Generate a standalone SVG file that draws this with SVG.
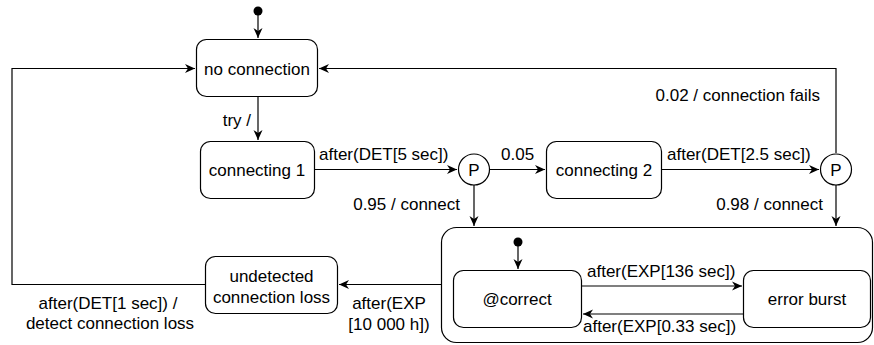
<svg xmlns="http://www.w3.org/2000/svg" width="874" height="345" viewBox="0 0 874 345">
<style>
.n{fill:#fff;stroke:#000;stroke-width:1.2}
.t{font-family:"Liberation Sans",Arial,sans-serif;font-size:17px;fill:#000}
.c{text-anchor:middle}
.e{text-anchor:end}
.l{fill:none;stroke:#000;stroke-width:1.2}
</style>
<defs>
<marker id="a" markerWidth="12" markerHeight="10" refX="10" refY="5" orient="auto" markerUnits="userSpaceOnUse">
<path d="M0,0.5 L10,5 L0,9.5 L3,5 Z" fill="#000"/>
</marker>
</defs>
<g id="composite"><rect class="n" x="441.5" y="227.5" width="431" height="115" rx="15"/></g>
<g id="init"><circle cx="258" cy="11" r="4.5" fill="#000"/></g>
<g id="no-connection"><rect class="n" x="196.5" y="39.5" width="121" height="57" rx="10"/><text class="t c" x="257" y="75">no connection</text></g>
<g id="connecting-1"><rect class="n" x="200.5" y="141.5" width="114" height="57" rx="10"/><text class="t c" x="257" y="176">connecting 1</text></g>
<g id="p1"><circle class="n" cx="474" cy="169.5" r="15.5"/><text class="t c" x="474" y="175.5">P</text></g>
<g id="connecting-2"><rect class="n" x="546.5" y="141.5" width="115" height="57" rx="10"/><text class="t c" x="604" y="176">connecting 2</text></g>
<g id="p2"><circle class="n" cx="836" cy="169.5" r="15.5"/><text class="t c" x="836" y="175.5">P</text></g>
<g id="init2"><circle cx="518" cy="242" r="4.5" fill="#000"/></g>
<g id="correct"><rect class="n" x="453.5" y="270.5" width="128" height="57" rx="10"/><text class="t c" x="517" y="305">@correct</text></g>
<g id="error-burst"><rect class="n" x="743.5" y="270.5" width="127" height="57" rx="10"/><text class="t c" x="807" y="305">error burst</text></g>
<g id="undetected"><rect class="n" x="205.5" y="256.5" width="132" height="57" rx="10"/><text class="t c" x="271.5" y="282">undetected</text><text class="t c" x="271.5" y="303">connection loss</text></g>
<g id="connectors">
<path class="l" d="M258,15 V38" marker-end="url(#a)"/>
<path class="l" d="M258,97 V140" marker-end="url(#a)"/>
<path class="l" d="M315,169.5 H457" marker-end="url(#a)"/>
<path class="l" d="M490,169.5 H545" marker-end="url(#a)"/>
<path class="l" d="M662,169.5 H819" marker-end="url(#a)"/>
<path class="l" d="M836,153 V68.5 H319" marker-end="url(#a)"/>
<path class="l" d="M836,185 V226" marker-end="url(#a)"/>
<path class="l" d="M474,185 V226" marker-end="url(#a)"/>
<path class="l" d="M441,284.5 H339" marker-end="url(#a)"/>
<path class="l" d="M205,284.5 H12 V68.5 H195" marker-end="url(#a)"/>
<path class="l" d="M518,246 V269" marker-end="url(#a)"/>
<path class="l" d="M582,286 H742" marker-end="url(#a)"/>
<path class="l" d="M743,314 H583" marker-end="url(#a)"/>
<text class="t e" x="251" y="126">try /</text>
<text class="t" x="319" y="160">after(DET[5 sec])</text>
<text class="t" x="501" y="160">0.05</text>
<text class="t" x="667" y="160">after(DET[2.5 sec])</text>
<text class="t e" x="820" y="101">0.02 / connection fails</text>
<text class="t e" x="823" y="210">0.98 / connect</text>
<text class="t e" x="460" y="210">0.95 / connect</text>
<text class="t" x="587" y="277">after(EXP[136 sec])</text>
<text class="t" x="583" y="332">after(EXP[0.33 sec])</text>
<text class="t c" x="389" y="309">after(EXP</text>
<text class="t c" x="389" y="330">[10 000 h])</text>
<text class="t c" x="108" y="309">after(DET[1 sec]) /</text>
<text class="t c" x="110" y="329">detect connection loss</text>
</g>
</svg>
